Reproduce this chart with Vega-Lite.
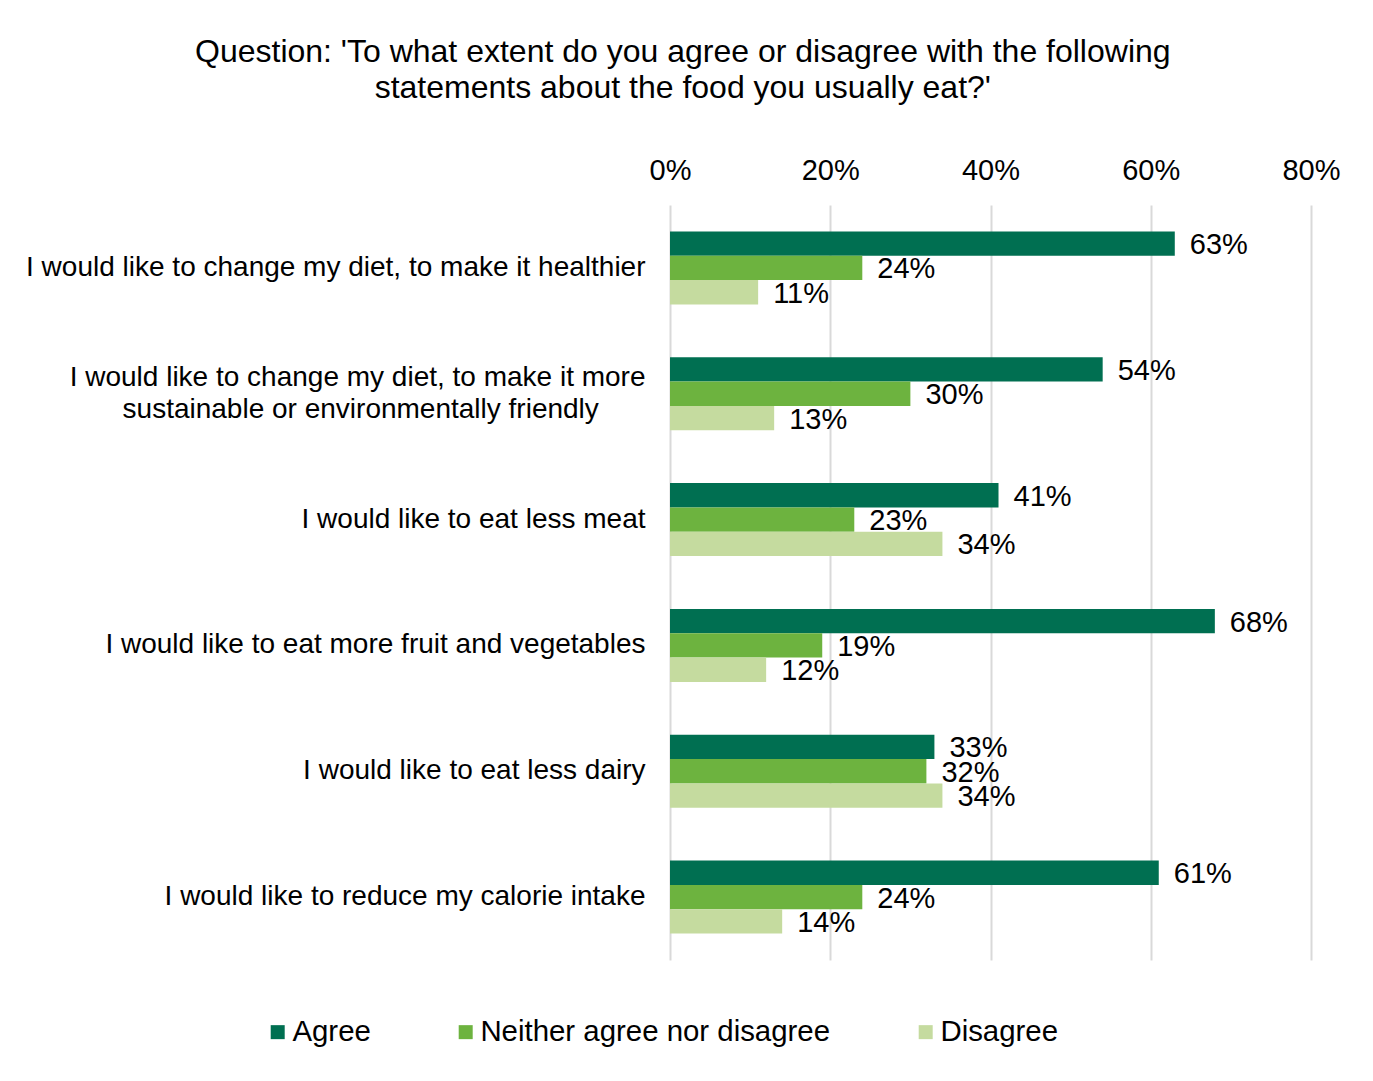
{
  "$schema": "https://vega.github.io/schema/vega-lite/v6.json",
  "autosize": "none",
  "width": 641,
  "height": 755,
  "padding": {"left": 670, "top": 205, "right": 62, "bottom": 121},
  "background": "white",
  "title": {
    "text": ["Question: 'To what extent do you agree or disagree with the following", "statements about the food you usually eat?'"],
    "anchor": "middle",
    "frame": "bounds",
    "font": "Liberation Sans",
    "fontSize": 32,
    "fontWeight": "normal",
    "lineHeight": 36,
    "color": "black",
    "offset": 51
  },
  "data": {
    "values": [
      {"question": "I would like to change my diet, to make it healthier", "response": "Agree", "value": 63},
      {"question": "I would like to change my diet, to make it healthier", "response": "Neither agree nor disagree", "value": 24},
      {"question": "I would like to change my diet, to make it healthier", "response": "Disagree", "value": 11},
      {"question": "I would like to change my diet, to make it more sustainable or environmentally friendly", "response": "Agree", "value": 54},
      {"question": "I would like to change my diet, to make it more sustainable or environmentally friendly", "response": "Neither agree nor disagree", "value": 30},
      {"question": "I would like to change my diet, to make it more sustainable or environmentally friendly", "response": "Disagree", "value": 13},
      {"question": "I would like to eat less meat", "response": "Agree", "value": 41},
      {"question": "I would like to eat less meat", "response": "Neither agree nor disagree", "value": 23},
      {"question": "I would like to eat less meat", "response": "Disagree", "value": 34},
      {"question": "I would like to eat more fruit and vegetables", "response": "Agree", "value": 68},
      {"question": "I would like to eat more fruit and vegetables", "response": "Neither agree nor disagree", "value": 19},
      {"question": "I would like to eat more fruit and vegetables", "response": "Disagree", "value": 12},
      {"question": "I would like to eat less dairy", "response": "Agree", "value": 33},
      {"question": "I would like to eat less dairy", "response": "Neither agree nor disagree", "value": 32},
      {"question": "I would like to eat less dairy", "response": "Disagree", "value": 34},
      {"question": "I would like to reduce my calorie intake", "response": "Agree", "value": 61},
      {"question": "I would like to reduce my calorie intake", "response": "Neither agree nor disagree", "value": 24},
      {"question": "I would like to reduce my calorie intake", "response": "Disagree", "value": 14}
    ]
  },
  "encoding": {
    "y": {
      "field": "question",
      "type": "nominal",
      "sort": null,
      "scale": {"paddingInner": 0.42, "paddingOuter": 0.21},
      "axis": {
        "title": null,
        "domain": false,
        "ticks": false,
        "labelPadding": 25,
        "labelFont": "Liberation Sans",
        "labelFontSize": 28,
        "labelColor": "black",
        "labelLimit": 800,
        "labelLineHeight": 32,
        "labelOffset": {"condition": {"test": "datum.value == 'I would like to change my diet, to make it more sustainable or environmentally friendly'", "value": -16}, "value": 0},
        "labelExpr": "datum.value == 'I would like to change my diet, to make it more sustainable or environmentally friendly' ? ['I would like to change my diet, to make it more', 'sustainable or environmentally friendly\u00a0\u00a0\u00a0\u00a0\u00a0\u00a0\u200b'] : datum.label"
      }
    },
    "yOffset": {
      "field": "response",
      "type": "nominal",
      "sort": ["Agree", "Neither agree nor disagree", "Disagree"],
      "scale": {"paddingInner": 0, "paddingOuter": 0}
    },
    "x": {
      "field": "value",
      "type": "quantitative",
      "scale": {"domain": [0, 80]},
      "axis": {
        "orient": "top",
        "title": null,
        "values": [0, 20, 40, 60, 80],
        "labelExpr": "datum.value + '%'",
        "domain": false,
        "ticks": false,
        "grid": true,
        "gridColor": "#D9D9D9",
        "gridWidth": 2,
        "labelPadding": 20,
        "labelFont": "Liberation Sans",
        "labelFontSize": 29,
        "labelColor": "black",
        "labelFlush": false
      }
    }
  },
  "layer": [
    {
      "mark": {"type": "bar"},
      "encoding": {
        "color": {
          "field": "response",
          "type": "nominal",
          "sort": ["Agree", "Neither agree nor disagree", "Disagree"],
          "scale": {
            "domain": ["Agree", "Neither agree nor disagree", "Disagree"],
            "range": ["#006F51", "#6DB33F", "#C5DB9F"]
          },
          "legend": {
            "title": null,
            "orient": "none",
            "direction": "horizontal",
            "legendX": -407,
            "legendY": 812,
            "symbolType": "square",
            "symbolSize": 196,
            "symbolStrokeWidth": 0,
            "symbolOpacity": 1,
            "labelFont": "Liberation Sans",
            "labelFontSize": 29.4,
            "labelColor": "black",
            "labelOffset": 0,
            "columnPadding": 80,
            "labelLimit": 600
          }
        }
      }
    },
    {
      "mark": {
        "type": "text",
        "align": "left",
        "baseline": "middle",
        "dx": 15,
        "dy": 1.5,
        "font": "Liberation Sans",
        "fontSize": 29,
        "color": "black",
        "text": {"expr": "datum.value + '%'"}
      },
      "encoding": {
        "detail": {"field": "response"}
      }
    }
  ],
  "config": {
    "view": {"stroke": null}
  }
}
